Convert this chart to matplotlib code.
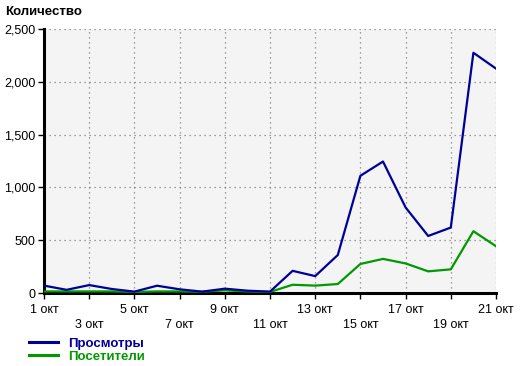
import numpy as np
import matplotlib.pyplot as plt

# daily values, 1..21 okt
days = [f"{d} окт" for d in range(1, 22)]
views = [70, 30, 75, 38, 13, 69, 35, 13, 41, 22, 13, 210, 160, 360, 1110, 1245, 810, 540, 620, 2275, 2125]
visitors = [15, 15, 15, 15, 10, 15, 15, 12, 25, 15, 10, 78, 70, 85, 275, 323, 280, 205, 224, 585, 443]
y_ticks = [0, 500, 1000, 1500, 2000, 2500]

blue = '#000099'
green = '#009900'

plt.rcParams['font.family'] = ['Liberation Sans', 'DejaVu Sans']

fig = plt.figure(figsize=(5.2, 3.66), dpi=100)
ax = fig.add_axes([44 / 520, 1 - 293 / 366, 452 / 520, 264 / 366])
ax.set_facecolor('#f4f4f4')

x = np.arange(len(days))
l2, = ax.plot(x, visitors, color=green, lw=1.6, label='Посетители', zorder=3)
l1, = ax.plot(x, views, color=blue, lw=1.6, label='Просмотры', zorder=4)

ax.set_xlim(0, len(days) - 1)
ax.set_ylim(0, 2500)
ax.set_yticks(y_ticks)
ax.set_yticklabels([f"{v:,}" for v in y_ticks])

xt = x[::2]
ax.set_xticks(xt)
ax.set_xticklabels([days[i] if k % 2 == 0 else "\n" + days[i] for k, i in enumerate(xt)],
                   linespacing=1.3)

ax.grid(True, color='#808080', linestyle=(0, (1, 3)), linewidth=0.9)
ax.tick_params(axis='both', labelsize=9, length=4, width=1, color='black', pad=2)
ax.tick_params(axis='x', pad=4)
for s in ['top', 'right']:
    ax.spines[s].set_visible(False)
for s in ['left', 'bottom']:
    ax.spines[s].set_linewidth(2.2)

fig.text(5 / 520, 1 - 12 / 366, 'Количество', fontsize=9.5, fontweight='bold', va='center', ha='left')

leg = fig.legend(handles=[l1, l2], loc='upper left', bbox_to_anchor=(17 / 520, 1 - 326 / 366),
                 frameon=False, labelcolor='linecolor', handlelength=2.2, handletextpad=0.8,
                 labelspacing=0.05, prop={'weight': 'bold', 'size': 9.5})
for h in leg.legend_handles:
    h.set_linewidth(2.2)

fig.savefig('out.png', dpi=100)
